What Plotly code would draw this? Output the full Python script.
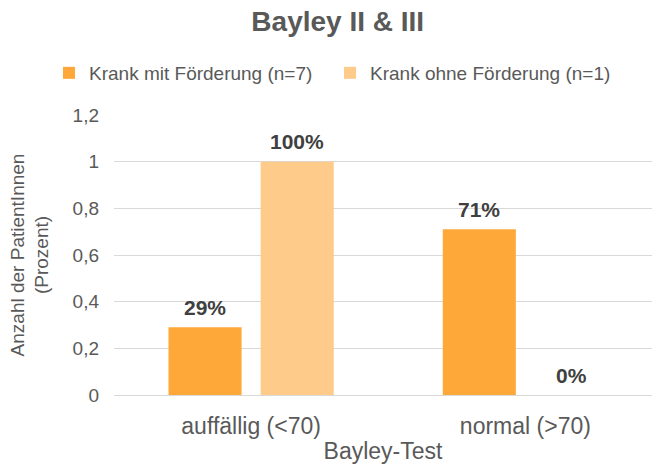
import plotly.graph_objects as go

categories = ["auffällig (<70)", "normal (>70)"]
series_names = ["Krank mit Förderung (n=7)", "Krank ohne Förderung (n=1)"]
mit_foerderung = [0.29, 0.71]
ohne_foerderung = [1.0, 0.0]
label_mit = ["29%", "71%"]
label_ohne = ["100%", "0%"]
y_ticks = [0, 0.2, 0.4, 0.6, 0.8, 1.0, 1.2]

FONT = "Liberation Sans, Arial, sans-serif"
GREY = "#595959"
colors = ["#FFA83A", "#FFCB8A"]

W, H = 652, 468
M_L, M_R, M_T, M_B = 114, 0, 115, 73
X_RANGE = [-0.5, 1.4617]
BARGAP = 0.328

fig = go.Figure()
series = [mit_foerderung, ohne_foerderung]
labels = [label_mit, label_ohne]
for name, vals, col in zip(series_names, series, colors):
    fig.add_trace(go.Bar(x=categories, y=vals, name=name,
                         marker_color=col, marker_line_width=0))

# data labels placed above each bar of the group
px_per_cat = (W - M_L - M_R) / (X_RANGE[1] - X_RANGE[0])
slot = px_per_cat * (1 - BARGAP) / len(series)
for i, (vals, labs) in enumerate(zip(series, labels)):
    for cat, v, lab in zip(categories, vals, labs):
        fig.add_annotation(x=cat, y=v, xref="x", yref="y", text=f"<b>{lab}</b>",
                           showarrow=False, xshift=(i - (len(series) - 1) / 2) * slot,
                           yshift=20, yanchor="middle",
                           font=dict(family=FONT, size=21, color="#404040"))

fig.update_layout(
    width=W, height=H,
    margin=dict(l=M_L, r=M_R, t=M_T, b=M_B, autoexpand=False),
    paper_bgcolor="white", plot_bgcolor="white",
    separators=",.",
    barmode="group", bargap=BARGAP, bargroupgap=0.207,
    font=dict(family=FONT, color=GREY, size=18),
    title=dict(text="<b>Bayley II & III</b>", x=0.518, xanchor="center",
               y=0.955, yanchor="middle",
               font=dict(family=FONT, size=28, color=GREY)),
    legend=dict(orientation="h", x=-0.1208, xanchor="left", y=1.15, yanchor="middle",
                font=dict(family=FONT, size=19, color=GREY),
                itemwidth=30, traceorder="normal", entrywidth=236),
    xaxis=dict(range=X_RANGE, showgrid=False, ticks="", automargin=False,
               showline=True, linecolor="#D9D9D9", linewidth=1,
               ticklabelstandoff=10,
               tickfont=dict(family=FONT, size=23, color=GREY),
               title=dict(text="Bayley-Test", font=dict(family=FONT, size=23, color=GREY),
                          standoff=5)),
    yaxis=dict(range=[0, 1.2], tickvals=y_ticks, showgrid=True, gridcolor="#D9D9D9",
               gridwidth=1, zeroline=False, ticks="", ticklen=0, automargin=False,
               ticklabelstandoff=14,
               tickfont=dict(family=FONT, size=19, color=GREY),
               title=dict(text="Anzahl der PatientInnen<br>(Prozent)",
                          font=dict(family=FONT, size=19, color=GREY), standoff=18)),
)

fig.write_html("out.html", config={"displayModeBar": False},
               post_script="document.body.style.margin='0';")
